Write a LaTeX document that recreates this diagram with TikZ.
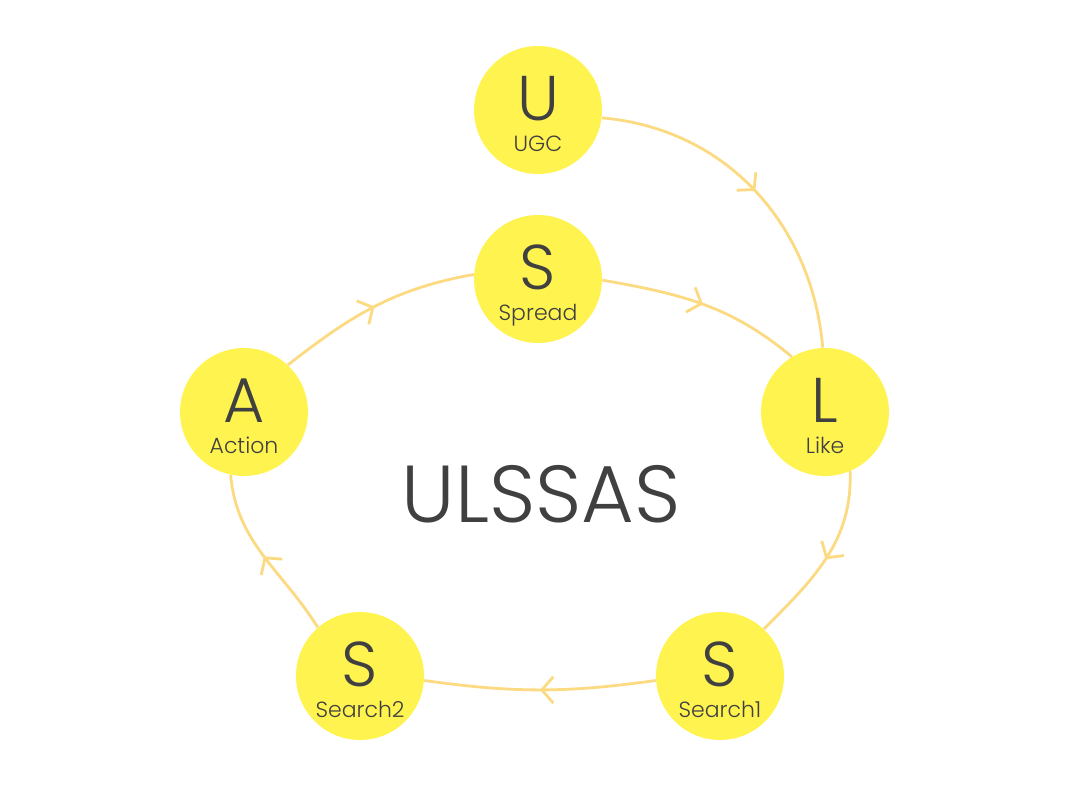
\documentclass[tikz,border=0pt]{standalone}
\usepackage{fontspec}
\setmainfont{Poppins}[UprightFont=* Light]
\usetikzlibrary{arrows.meta,decorations.markings}
\definecolor{circfill}{RGB}{255,243,80}
\definecolor{linecol}{RGB}{252,218,130}
\definecolor{txt}{RGB}{64,64,64}
\tikzset{
  stage/.style={circle,fill=circfill,minimum size=2.56cm,inner sep=0pt,text=txt},
  flow/.style={draw=linecol,line width=1.6pt,
    postaction={decorate},
    decoration={markings,mark=at position 0.5 with {\arrow[linecol,line width=1.6pt]{Straight Barb[length=6.5pt,width=15pt]}}}},
  big/.style={font=\fontsize{36}{36}\selectfont,inner sep=0pt},
  small/.style={font=\fontsize{12.5}{12.5}\selectfont,inner sep=0pt}
}
\begin{document}
\begin{tikzpicture}[x=0.02cm,y=-0.02cm]
\useasboundingbox (0,0) rectangle (1086,793);
\node[stage] (U) at (538,110) {};
\node[stage] (Sp) at (538,279) {};
\node[stage] (A) at (244,412) {};
\node[stage] (L) at (825,412) {};
\node[stage] (S1) at (720,676) {};
\node[stage] (S2) at (360,676) {};
\foreach \n/\b/\s in {U/U/UGC,Sp/S/Spread,A/A/Action,L/L/Like,S1/S/Search1,S2/S/Search2}{
  \node[big,text=txt,anchor=base] (\n-big) at ([yshift=-0.22cm]\n.center) {\b};
  \node[small,text=txt,anchor=base] (\n-small) at ([yshift=-0.84cm]\n.center) {\s};
}
\node[font=\fontsize{46}{46}\selectfont,text=txt] (title) at (541,494) {ULSSAS};
\draw[flow] (U.-7) to[out=-5,in=95] (L.92);
\draw[flow] (A.47) to[out=38,in=190] (Sp.176);
\draw[flow] (Sp.-1) to[out=-10,in=140] (L.121);
\draw[flow] (L.-67) to[out=-88,in=45] (S1.47);
\draw[flow] (S1.184) to[out=188,in=-8] (S2.-4);
\draw[flow] (S2.131) to[out=122,in=-85] (A.-102);
\end{tikzpicture}
\end{document}
